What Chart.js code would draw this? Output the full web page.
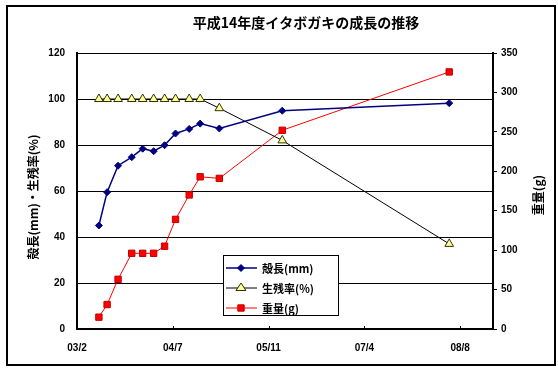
<!DOCTYPE html>
<html><head><meta charset="utf-8">
<script src="https://cdn.jsdelivr.net/npm/chart.js@4"></script>
<style>html,body{margin:0;padding:0;background:#fff}</style>
</head><body><canvas id="c" width="558" height="369"></canvas>
<script>
const chartTitle = '平成14年度イタボガキの成長の推移';
const leftAxisTitle = '殻長(mm)・生残率(%)';
const rightAxisTitle = '重量(g)';
const seriesNames = ['殻長(mm)', '生残率(%)', '重量(g)'];
const xTickLabels = ['03/2', '04/7', '05/11', '07/4', '08/8'];
const xTickStep = 35;
const xMax = 152;
const sampleDays = [8, 11, 15, 20, 24, 28, 32, 36, 41, 45, 52, 75, 136];
const shellLength = [45, 59.5, 71, 74.7, 78.4, 77.3, 79.9, 85, 87, 89.3, 87.2, 94.9, 98.2];
const survivalRate = [100, 100, 100, 100, 100, 100, 100, 100, 100, 100, 96, 82, 37];
const weight = [15, 31, 63, 96, 96, 96, 105, 139, 170, 193, 191, 252, 326];

const JP = "'Noto Sans CJK JP', sans-serif";
const NUM = "'Liberation Sans', Arial, sans-serif";
const toXY = (ys) => sampleDays.map((d, i) => ({x: d, y: ys[i]}));

const styles = [
  {color: '#000080', fill: '#000080', stroke: '#000080', shape: 'rectRot', r: 3.5, lw: 1.5},
  {color: '#000000', fill: '#ffff99', stroke: '#333300', shape: 'triangle', r: 5, lw: 1},
  {color: '#ff0000', fill: '#ff0000', stroke: '#c00000', shape: 'rect', r: 4.5, lw: 1}
];

function drawMarker(ctx, s, x, y) {
  ctx.save();
  ctx.fillStyle = s.fill; ctx.strokeStyle = s.stroke; ctx.lineWidth = 1;
  ctx.beginPath();
  if (s.shape === 'rectRot') {
    ctx.moveTo(x, y - s.r); ctx.lineTo(x + s.r, y); ctx.lineTo(x, y + s.r); ctx.lineTo(x - s.r, y); ctx.closePath();
  } else if (s.shape === 'triangle') {
    const h = s.r * 1.5, w = s.r * 0.866;
    ctx.moveTo(x, y - h * 2 / 3); ctx.lineTo(x + w * 1.15, y + h / 3); ctx.lineTo(x - w * 1.15, y + h / 3); ctx.closePath();
  } else {
    const a = s.r * Math.SQRT1_2;
    ctx.rect(x - a, y - a, 2 * a, 2 * a);
  }
  ctx.fill(); ctx.stroke();
  ctx.restore();
}

const decor = {
  id: 'decor',
  afterDraw(chart) {
    const ctx = chart.ctx;
    ctx.save();
    // outer frame
    ctx.strokeStyle = '#000'; ctx.lineWidth = 2;
    ctx.strokeRect(7, 6, 548, 359);
    ctx.lineWidth = 1;
    // title
    ctx.fillStyle = '#000';
    ctx.font = 'bold 14px ' + JP;
    ctx.textAlign = 'center'; ctx.textBaseline = 'middle';
    ctx.fillText(chartTitle, 306, 23);
    // axis titles
    ctx.font = 'bold 12px ' + JP;
    ctx.save(); ctx.translate(33, 197); ctx.rotate(-Math.PI / 2); ctx.fillText(leftAxisTitle, 0, 0); ctx.restore();
    ctx.save(); ctx.translate(538, 195); ctx.rotate(-Math.PI / 2); ctx.fillText(rightAxisTitle, 0, 0); ctx.restore();
    // x inward tick marks
    const xs = chart.scales.x, bottom = chart.chartArea.bottom;
    ctx.beginPath();
    xTickLabels.forEach((l, i) => {
      const px = Math.round(xs.getPixelForValue(i * xTickStep)) + 0.5;
      ctx.moveTo(px, bottom); ctx.lineTo(px, bottom - 3);
    });
    ctx.stroke();
    // legend
    const bx = 223.5, by = 255.5, bw = 115, bh = 60;
    ctx.fillStyle = '#fff'; ctx.fillRect(bx, by, bw, bh);
    ctx.strokeStyle = '#000'; ctx.strokeRect(bx, by, bw, bh);
    ctx.font = 'bold 11px ' + JP;
    ctx.textAlign = 'left';
    seriesNames.forEach((name, i) => {
      const y = 268 + i * 20, s = styles[i];
      ctx.strokeStyle = s.color; ctx.lineWidth = s.lw;
      ctx.beginPath(); ctx.moveTo(226, y); ctx.lineTo(257, y); ctx.stroke();
      drawMarker(ctx, s, 241, y);
      ctx.fillStyle = '#000';
      ctx.fillText(name, 262, y + 1);
    });
    ctx.restore();
  }
};

const tickFont = {family: NUM, size: 10, weight: 'bold'};

new Chart(document.getElementById('c'), {
  type: 'line',
  data: {
    datasets: [
      {label: seriesNames[0], data: toXY(shellLength), yAxisID: 'y', borderColor: styles[0].color, borderWidth: 1.5,
       pointStyle: 'rectRot', pointRadius: 3.5, pointBackgroundColor: styles[0].fill, pointBorderColor: styles[0].stroke, pointBorderWidth: 1, tension: 0},
      {label: seriesNames[1], data: toXY(survivalRate), yAxisID: 'y', borderColor: styles[1].color, borderWidth: 1,
       pointStyle: 'triangle', pointRadius: 5, pointBackgroundColor: styles[1].fill, pointBorderColor: styles[1].stroke, pointBorderWidth: 1, tension: 0},
      {label: seriesNames[2], data: toXY(weight), yAxisID: 'y2', borderColor: styles[2].color, borderWidth: 1,
       pointStyle: 'rect', pointRadius: 4.5, pointBackgroundColor: styles[2].fill, pointBorderColor: styles[2].stroke, pointBorderWidth: 1, tension: 0}
    ]
  },
  options: {
    responsive: false, animation: false, devicePixelRatio: 1,
    layout: {padding: {top: 53, left: 0, right: 0, bottom: 0}},
    plugins: {legend: {display: false}, title: {display: false}, tooltip: {enabled: false}},
    scales: {
      x: {
        type: 'linear', min: 0, max: xMax,
        afterBuildTicks(s) { s.ticks = xTickLabels.map((l, i) => ({value: i * xTickStep})); },
        afterFit(s) { s.height = 40; },
        ticks: {callback: (v, i) => xTickLabels[i], font: tickFont, color: '#000', padding: 13, maxRotation: 0, autoSkip: false},
        grid: {drawOnChartArea: false, drawTicks: false},
        border: {color: '#000', width: 2}
      },
      y: {
        position: 'left', min: 0, max: 120,
        afterFit(s) { s.width = 77; },
        ticks: {stepSize: 20, padding: 12, font: tickFont, color: '#000'},
        grid: {color: '#000', lineWidth: 1, drawTicks: false},
        border: {color: '#000', width: 2}
      },
      y2: {
        position: 'right', min: 0, max: 350,
        afterFit(s) { s.width = 65; },
        ticks: {stepSize: 50, padding: 4, font: tickFont, color: '#000'},
        grid: {drawOnChartArea: false, color: '#000', tickLength: 4},
        border: {color: '#000', width: 2}
      }
    }
  },
  plugins: [decor]
});
</script></body></html>
